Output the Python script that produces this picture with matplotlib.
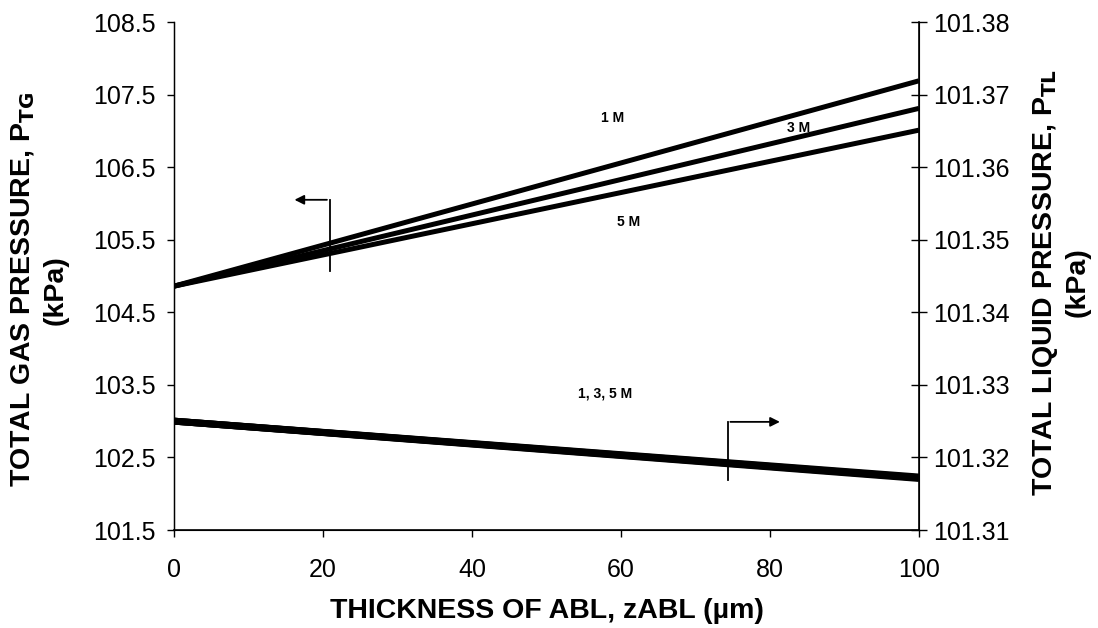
import matplotlib
matplotlib.use("Agg")
import matplotlib.pyplot as plt
import numpy as np

plt.rcParams['font.family'] = ['Liberation Sans', 'DejaVu Sans']

# Data
z_abl = [0, 100]
ptg_1M = [104.86, 107.69]
ptg_3M = [104.86, 107.31]
ptg_5M = [104.86, 107.01]
ptl_1M = [101.3250, 101.3171]
ptl_3M = [101.3250, 101.3172]
ptl_5M = [101.3250, 101.3173]

left_ticks = [101.5, 102.5, 103.5, 104.5, 105.5, 106.5, 107.5, 108.5]
right_ticks = [101.31, 101.32, 101.33, 101.34, 101.35, 101.36, 101.37, 101.38]
x_ticks = [0, 20, 40, 60, 80, 100]

fig = plt.figure(figsize=(10.98, 6.28), dpi=100)
ax = fig.add_axes([174/1098, 1 - 530/628, (919-174)/1098, (530-22)/628])
ax2 = ax.twinx()

for y in (ptg_1M, ptg_3M, ptg_5M):
    ax.plot(z_abl, y, color='black', lw=3.6, solid_capstyle='butt')
for y in (ptl_1M, ptl_3M, ptl_5M):
    ax2.plot(z_abl, y, color='black', lw=5.0, solid_capstyle='butt')

ax.set_xlim(0, 100)
ax.set_ylim(101.5, 108.5)
ax2.set_ylim(101.31, 101.38)
ax.set_xticks(x_ticks)
ax.set_yticks(left_ticks)
ax.set_yticklabels([f"{v:.1f}" for v in left_ticks])
ax2.set_yticks(right_ticks)
ax2.set_yticklabels([f"{v:.2f}" for v in right_ticks])

for a in (ax, ax2):
    a.spines['top'].set_visible(False)
    a.tick_params(labelsize=18, width=1, color='black')
ax.spines['left'].set_linewidth(1)
ax.spines['bottom'].set_linewidth(1.2)
ax2.spines['right'].set_linewidth(1.2)
ax.tick_params(axis='x', direction='out', length=5, pad=15)
ax.tick_params(axis='y', direction='out', length=5, pad=8)
ax2.tick_params(axis='y', direction='inout', length=11, pad=5)

lab_kw = dict(fontsize=20.5, fontweight='bold')
ax.set_xlabel("THICKNESS OF ABL, zABL (µm)", va='top', **lab_kw)
ax.xaxis.set_label_coords(0.5, (530 - 598) / 508)
ax.set_ylabel("TOTAL GAS PRESSURE, P$_{\\mathbf{TG}}$\n(kPa)", va='center', ha='center',
              rotation=90, rotation_mode='anchor', linespacing=1.3, **lab_kw)
ax.yaxis.set_label_coords((39 - 174) / 745, (530 - 290) / 508)
ax2.set_ylabel("TOTAL LIQUID PRESSURE, P$_{\\mathbf{TL}}$\n(kPa)", va='center', ha='center',
               rotation=90, rotation_mode='anchor', linespacing=1.22, **lab_kw)
ax2.yaxis.set_label_coords((1061 - 174) / 745, (530 - 282) / 508)

# curve labels
lbl_kw = dict(fontsize=10, fontweight='bold', ha='center', va='center')
ax.text(58.9, 107.18, "1 M", **lbl_kw)
ax.text(83.9, 107.04, "3 M", **lbl_kw)
ax.text(61.0, 105.75, "5 M", **lbl_kw)
ax.text(57.8, 103.38, "1, 3, 5 M", **lbl_kw)

# axis indicator arrows
ax.plot([20.9, 20.9], [105.07, 106.05], color='black', lw=1.3)
ax.annotate("", xy=(15.8, 106.05), xytext=(20.9, 106.05),
            arrowprops=dict(arrowstyle='-|>', color='black', lw=1.3, mutation_scale=14))
ax.plot([74.3, 74.3], [102.19, 102.99], color='black', lw=1.3)
ax.annotate("", xy=(81.7, 102.99), xytext=(74.3, 102.99),
            arrowprops=dict(arrowstyle='-|>', color='black', lw=1.3, mutation_scale=14))

fig.savefig("out.png", dpi=100)
